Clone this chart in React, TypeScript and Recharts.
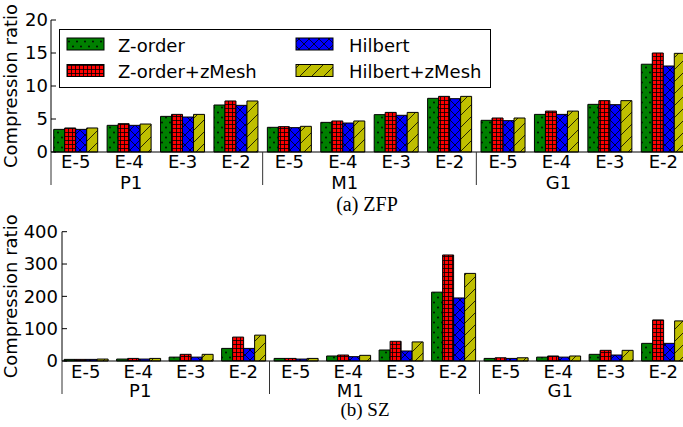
import React from 'react';
import { BarChart, Bar, XAxis, YAxis, Legend } from 'recharts';

// categories
const errorLevels = ['E-5', 'E-4', 'E-3', 'E-2'];
const datasets = ['P1', 'M1', 'G1'];

// (a) ZFP compression ratios, P1 / M1 / G1 x E-5..E-2
const zfpZorder = [3.43, 4.04, 5.4, 7.12, 3.74, 4.49, 5.66, 8.13, 4.8, 5.7, 7.22, 13.3];
const zfpZorderMesh = [3.64, 4.29, 5.7, 7.73, 3.84, 4.7, 6.0, 8.43, 5.15, 6.2, 7.78, 15.0];
const zfpHilbert = [3.43, 4.04, 5.3, 7.07, 3.69, 4.39, 5.56, 8.08, 4.75, 5.7, 7.17, 13.03];
const zfpHilbertMesh = [3.64, 4.24, 5.7, 7.73, 3.89, 4.7, 6.0, 8.43, 5.15, 6.2, 7.78, 14.95];

// (b) SZ compression ratios
const szZorder = [5, 6, 12, 39, 8, 15.5, 34, 213, 8, 12, 20.6, 54.6];
const szZorderMesh = [5, 8, 20.6, 74, 8, 18.5, 61, 328, 10, 15.5, 33, 127];
const szHilbert = [5, 6, 12, 39, 6, 13.4, 31, 195, 8, 12, 18.5, 54.6];
const szHilbertMesh = [6, 8, 20.6, 80, 8, 17.5, 59, 271, 10, 15.5, 33, 124];

const zfpTicks = [0, 5, 10, 15, 20];
const szTicks = [0, 100, 200, 300, 400];

const seriesNames = ['Z-order', 'Z-order+zMesh', 'Hilbert', 'Hilbert+zMesh'];
const seriesKeys = ['zorder', 'zorderMesh', 'hilbert', 'hilbertMesh'];
const patternIds = ['pat-dots', 'pat-grid', 'pat-cross', 'pat-diag'];

const buildRows = (a: number[], b: number[], c: number[], d: number[]) =>
  datasets.flatMap((ds, di) =>
    errorLevels.map((e, ei) => {
      const i = di * 4 + ei;
      return { key: `${ds} ${e}`, err: e, group: ds, zorder: a[i], zorderMesh: b[i], hilbert: c[i], hilbertMesh: d[i] };
    })
  );

const zfpRows = buildRows(zfpZorder, zfpZorderMesh, zfpHilbert, zfpHilbertMesh);
const szRows = buildRows(szZorder, szZorderMesh, szHilbert, szHilbertMesh);

const FONT = 'DejaVu Sans';

const Patterns = () => (
  <svg width={0} height={0} style={{ position: 'absolute' }}>
    <defs>
      <pattern id="pat-dots" patternUnits="userSpaceOnUse" width={8} height={10}>
        <rect width={8} height={10} fill="#008000" />
        <circle cx={2} cy={2.5} r={0.9} fill="#000" />
        <circle cx={6} cy={7.5} r={0.9} fill="#000" />
      </pattern>
      <pattern id="pat-grid" patternUnits="userSpaceOnUse" width={4} height={4}>
        <rect width={4} height={4} fill="#ff0000" />
        <path d="M0 0.5H4M0.5 0V4" stroke="#000" strokeWidth={0.8} />
      </pattern>
      <pattern id="pat-cross" patternUnits="userSpaceOnUse" width={10} height={10}>
        <rect width={10} height={10} fill="#0000ff" />
        <path d="M0 0L10 10M10 0L0 10" stroke="#000" strokeWidth={0.8} />
      </pattern>
      <pattern id="pat-diag" patternUnits="userSpaceOnUse" width={12} height={12}>
        <rect width={12} height={12} fill="#bfbf00" />
        <path d="M0 12L12 0M-3 3L3 -3M9 15L15 9" stroke="#000" strokeWidth={0.8} />
      </pattern>
    </defs>
  </svg>
);

// bottom axis: error level, dataset label under the 2nd tick, separators between datasets
const makeXTick = (rows: any[], band: number, plotLeft: number, labelDy: number, groupDy: number) => (props: any) => {
  const { x, y, index } = props;
  const row = rows[index];
  const sepX = index === 0 ? plotLeft : x - band / 2;
  return (
    <g>
      <text x={x} y={y + labelDy} textAnchor="middle" fontSize={18} fontFamily={FONT} fill="#000">
        {row.err}
      </text>
      {index % 4 === 1 && (
        <text x={x + 2} y={y + groupDy} textAnchor="middle" fontSize={18} fontFamily={FONT} fill="#000">
          {row.group}
        </text>
      )}
      {index % 4 === 0 && <line x1={sepX} x2={sepX} y1={y} y2={y + 33} stroke="#333" strokeWidth={1} />}
    </g>
  );
};

const makeYTick = (margin: number) => (props: any) => {
  const { x, y, payload } = props;
  return (
    <g>
      <text x={x} y={y} dy="0.355em" textAnchor="end" fontSize={18} fontFamily={FONT} fill="#000">
        {payload.value}
      </text>
      <line x1={x + margin} x2={x + margin + 5} y1={y} y2={y} stroke="#000" />
    </g>
  );
};

// matplotlib-style legend, 2 columns filled column-wise
const LegendBox = () => (
  <svg width={432} height={60} style={{ display: 'block' }}>
    <rect x={0.5} y={0.5} width={431} height={58} fill="#fff" stroke="#000" strokeWidth={1} />
    {seriesNames.map((name, i) => {
      const col = Math.floor(i / 2);
      const row = i % 2;
      const sx = col === 0 ? 8 : 237;
      const tx = col === 0 ? 59 : 290;
      const sy = row === 0 ? 9 : 35.5;
      return (
        <g key={name}>
          <rect x={sx} y={sy} width={37} height={12} fill={`url(#${patternIds[i]})`} stroke="#000" strokeWidth={1} />
          <text x={tx} y={sy + 13.5} fontSize={18} fontFamily={FONT} fill="#000">
            {name}
          </text>
        </g>
      );
    })}
  </svg>
);

interface PanelProps {
  rows: any[];
  ticks: number[];
  yMax: number;
  height: number;
  top: number;
  yWidth: number;
  padLeft: number;
  right: number;
  xHeight: number;
  tickMargin: number;
  labelDy: number;
  groupDy: number;
  showLegend?: boolean;
}

const Panel: React.FC<PanelProps> = ({ rows, ticks, yMax, height, top, yWidth, padLeft, right, xHeight, tickMargin, labelDy, groupDy, showLegend }) => {
  const width = 700;
  const plotLeft = yWidth + padLeft;
  const band = (width - right - plotLeft) / rows.length;
  return (
    <BarChart
      width={width}
      height={height}
      data={rows}
      margin={{ top, right, bottom: 0, left: 0 }}
      barCategoryGap="8.8%"
      barGap={0}
    >
      <XAxis
        dataKey="key"
        interval={0}
        tickSize={0}
        tickMargin={0}
        height={xHeight}
        padding={{ left: padLeft, right: 0 }}
        axisLine={{ stroke: '#000' }}
        tickLine={false}
        tick={makeXTick(rows, band, yWidth, labelDy, groupDy)}
      />
      <XAxis
        xAxisId="top"
        orientation="top"
        dataKey="key"
        interval={0}
        height={0}
        mirror
        tickSize={4}
        padding={{ left: padLeft, right: 0 }}
        axisLine={{ stroke: '#000' }}
        tickLine={{ stroke: '#000' }}
        tickFormatter={() => ''}
      />
      <YAxis
        width={yWidth}
        domain={[0, yMax]}
        ticks={ticks}
        interval={0}
        tickSize={0}
        tickMargin={tickMargin}
        axisLine={{ stroke: '#000' }}
        tickLine={false}
        tick={makeYTick(tickMargin)}
        label={{
          value: 'Compression ratio',
          angle: -90,
          position: 'insideLeft',
          offset: 11,
          style: { textAnchor: 'middle', fontSize: 18, fontFamily: FONT, fill: '#000' },
        }}
      />
      {showLegend && (
        <Legend
          layout="vertical"
          align="center"
          verticalAlign="middle"
          content={LegendBox}
          wrapperStyle={{ left: 59, top: 29, width: 432, height: 60 }}
        />
      )}
      {seriesKeys.map((k, i) => (
        <Bar
          key={k}
          dataKey={k}
          name={seriesNames[i]}
          fill={`url(#${patternIds[i]})`}
          stroke="#000"
          strokeWidth={1}
          isAnimationActive={false}
        />
      ))}
    </BarChart>
  );
};

export default function App() {
  return (
    <div
      style={{
        position: 'absolute',
        left: 0,
        top: 0,
        width: 683,
        height: 427,
        overflow: 'hidden',
        background: '#fff',
        fontFamily: FONT,
      }}
    >
      <Patterns />
      <div style={{ position: 'absolute', left: 0, top: 0 }}>
        <Panel
          rows={zfpRows}
          ticks={zfpTicks}
          yMax={20}
          height={200}
          top={20}
          yWidth={51}
          padLeft={-2}
          right={10}
          xHeight={48}
          tickMargin={3}
          labelDy={16}
          groupDy={37}
          showLegend
        />
      </div>
      <div style={{ position: 'absolute', left: 0, top: 200 }}>
        <Panel
          rows={szRows}
          ticks={szTicks}
          yMax={400}
          height={210}
          top={31.7}
          yWidth={62}
          padLeft={-2.5}
          right={10.5}
          xHeight={49}
          tickMargin={4}
          labelDy={17}
          groupDy={36}
        />
      </div>
      <svg width={683} height={427} style={{ position: 'absolute', left: 0, top: 0, pointerEvents: 'none' }}>
        <text x={367} y={211} textAnchor="middle" fontSize={20} fontFamily="Liberation Serif" fill="#000">
          (a) ZFP
        </text>
        <text x={365} y={416} textAnchor="middle" fontSize={19} fontFamily="Liberation Serif" fill="#000">
          (b) SZ
        </text>
      </svg>
    </div>
  );
}
